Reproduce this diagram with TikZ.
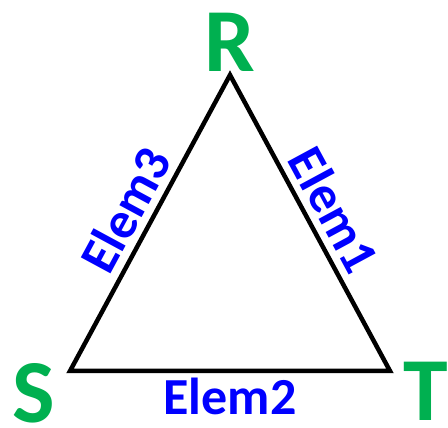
\documentclass[tikz,border=0pt]{standalone}
\usepackage{fontspec}
\setmainfont{Carlito}
\usepackage{tikz}
\usetikzlibrary{positioning,calc}
\definecolor{cG}{HTML}{00B050}
\definecolor{cB}{HTML}{0000FF}
\tikzset{
  vtx/.style={text=cG,font=\fontsize{90}{90}\selectfont\bfseries,inner sep=0pt},
  elem/.style={text=cB,font=\fontsize{52}{52}\selectfont\bfseries,inner sep=2pt},
  side/.style={line width=4.5pt,black,line join=miter},
}
\begin{document}
\begin{tikzpicture}[x=1pt,y=1pt]
  \useasboundingbox (0,0) rectangle (448,428);
  \coordinate (r) at (230,353);
  \coordinate (s) at (70,57);
  \coordinate (t) at (390,57);
  \node[vtx] (R) at (230,386) {R};
  \node[vtx] (S) at (34,35) {S};
  \node[vtx] (T) at (426,37) {T};
  \draw[side] (s) -- (r) node[elem,midway,sloped,above=5pt] (e3) {Elem3}
     -- (t) node[elem,midway,sloped,above=5pt] (e1) {Elem1}
     -- cycle;
  \node[elem,below=5pt of {$(s)!.5!(t)$}] (e2) {Elem2};
\end{tikzpicture}
\end{document}
